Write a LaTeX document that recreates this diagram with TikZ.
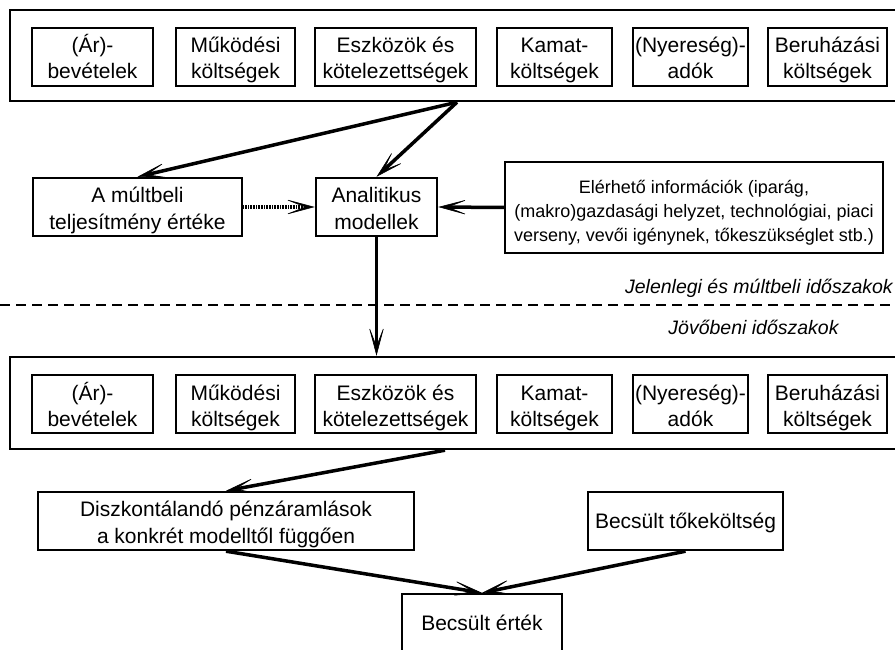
\documentclass[tikz,border=0pt]{standalone}
\usepackage{fontspec}
\setmainfont{Liberation Sans}
\usepackage{tikz}
\usetikzlibrary{arrows.meta}

\begin{document}
\begin{tikzpicture}[
    x=1pt, y=-1pt,
    item/.style={draw, line width=1.8pt, inner sep=0pt, minimum height=58pt, align=center, font=\fontsize{21}{26}\selectfont,
        text height=49pt, text depth=5pt},
    outer/.style={draw, line width=2.4pt, inner sep=0pt, minimum width=890pt, minimum height=91pt},
    box/.style={draw, line width=2.4pt, inner sep=0pt, minimum height=58pt, align=center, font=\fontsize{21}{27}\selectfont,
        text height=50pt, text depth=5pt},
    single/.style={box, text height=20pt},
    infobox/.style={box, minimum height=91pt, font=\fontsize{18}{24}\selectfont, text height=72pt, text depth=4pt},
    period/.style={inner sep=0pt, font=\fontsize{19.5}{24}\selectfont\itshape},
    flow/.style={-{Stealth[length=32pt,width=17pt,inset=22pt,line width=0.6pt]}, line width=3.5pt},
    hatch/.style={flow, dash pattern=on 1pt off 0.6pt, line width=4.5pt}
]
    \useasboundingbox (0,0) rectangle (895,650);

    % Present and past periods (top)
    \node[outer] (past) at (455,55.5) {};
    \node[item, minimum width=121pt] (p1) at (92.5,57) {(Ár)-\\bevételek};
    \node[item, minimum width=119pt] (p2) at (235.5,57) {Működési\\költségek};
    \node[item, minimum width=161pt] (p3) at (395.5,57) {Eszközök és\\kötelezettségek};
    \node[item, minimum width=115pt] (p4) at (554.5,57) {Kamat-\\költségek};
    \node[item, minimum width=115pt] (p5) at (690.5,57) {(Nyereség)-\\adók};
    \node[item, minimum width=119pt] (p6) at (827.5,57) {Beruházási\\költségek};

    \node[box, minimum width=209pt] (hist) at (137.5,207) {A múltbeli\\teljesítmény értéke};
    \node[box, minimum width=121pt] (model) at (376.5,207) {Analitikus\\modellek};
    \node[infobox, minimum width=378pt] (info) at (694,207.5)
        {Elérhető információk (iparág,\\(makro)gazdasági helyzet, technológiai, piaci\\verseny, vevői igénynek, tőkeszükséglet stb.)};

    % Edges for analysis
    \draw[flow] ([xshift=2pt]past.south) -- (hist.north);
    \draw[flow] ([xshift=2pt]past.south) -- (model.north);
    \draw[hatch] (hist) -- (model);
    \draw[flow] (info.west) -- (model.east);

    % Period separator
    \node[period, anchor=east] (nowlbl) at (893,288) {Jelenlegi és múltbeli időszakok};
    \draw[line width=2pt, dash pattern=on 10pt off 6pt] (0,305) -- (895,305);
    \node[period] (futlbl) at (753.5,327) {Jövőbeni időszakok};

    % Future periods (bottom)
    \node[outer, minimum height=92pt] (future) at (455,403) {};
    \node[item, minimum width=121pt] (f1) at (92.5,404) {(Ár)-\\bevételek};
    \node[item, minimum width=119pt] (f2) at (235.5,404) {Működési\\költségek};
    \node[item, minimum width=161pt] (f3) at (395.5,404) {Eszközök és\\kötelezettségek};
    \node[item, minimum width=115pt] (f4) at (554.5,404) {Kamat-\\költségek};
    \node[item, minimum width=115pt] (f5) at (690.5,404) {(Nyereség)-\\adók};
    \node[item, minimum width=119pt] (f6) at (827.5,404) {Beruházási\\költségek};

    \draw[flow] (model.south) -- (model.south |- future.north);

    \node[box, minimum width=376pt] (cash) at (226,521) {Diszkontálandó pénzáramlások\\a konkrét modelltől függően};
    \node[single, minimum width=195pt] (cost) at (685.5,521) {Becsült tőkeköltség};
    \node[single, minimum width=160pt] (value) at (482,623) {Becsült érték};

    % Edges for valuation
    \draw[flow] ([xshift=-10pt]future.south) -- (cash.north);
    \draw[flow] (cash.south) -- (value.north);
    \draw[flow] (cost.south) -- (value.north);
\end{tikzpicture}
\end{document}
